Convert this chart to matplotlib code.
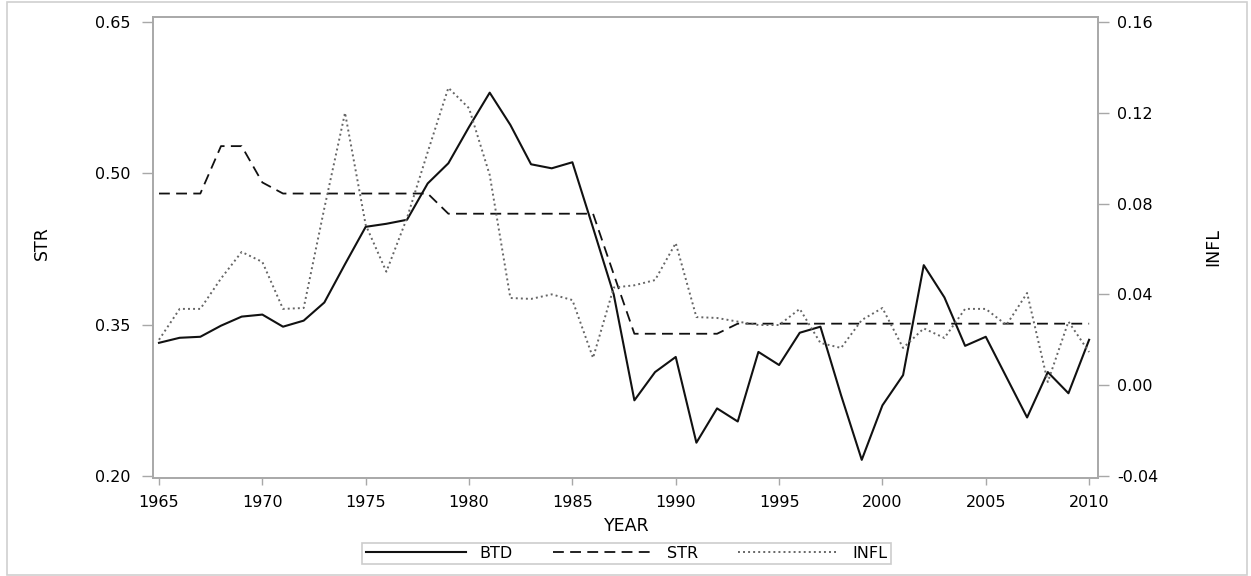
import matplotlib
matplotlib.use("Agg")
import matplotlib.pyplot as plt
from matplotlib.patches import Rectangle

# data
years = list(range(1965, 2011))

btd = [0.332, 0.337, 0.338, 0.349, 0.358, 0.360, 0.348, 0.354, 0.372, 0.410,
       0.447, 0.450, 0.454, 0.490, 0.510, 0.546, 0.580, 0.548, 0.509, 0.505,
       0.511, 0.446, 0.380, 0.275, 0.303, 0.318, 0.233, 0.267, 0.254, 0.323,
       0.310, 0.342, 0.348, 0.280, 0.216, 0.270, 0.300, 0.409, 0.377, 0.329,
       0.338, 0.298, 0.258, 0.303, 0.282, 0.335]

str_rate = [0.480, 0.480, 0.480, 0.527, 0.527, 0.491, 0.480, 0.480, 0.480, 0.480,
            0.480, 0.480, 0.480, 0.480, 0.460, 0.460, 0.460, 0.460, 0.460, 0.460,
            0.460, 0.460, 0.400, 0.341, 0.341, 0.341, 0.341, 0.341, 0.351, 0.351,
            0.351, 0.351, 0.351, 0.351, 0.351, 0.351, 0.351, 0.351, 0.351, 0.351,
            0.351, 0.351, 0.351, 0.351, 0.351, 0.351]

infl = [0.0200, 0.0336, 0.0336, 0.0470, 0.0587, 0.0543, 0.0336, 0.0340, 0.0780, 0.1200,
        0.0706, 0.0500, 0.0737, 0.1027, 0.1310, 0.1220, 0.0926, 0.0384, 0.0380, 0.0400,
        0.0375, 0.0120, 0.0430, 0.0440, 0.0463, 0.0626, 0.0300, 0.0296, 0.0280, 0.0265,
        0.0265, 0.0336, 0.0186, 0.0164, 0.0287, 0.0340, 0.0164, 0.0250, 0.0208, 0.0336,
        0.0336, 0.0265, 0.0406, 0.0014, 0.0280, 0.0146]

left_ticks = [0.20, 0.35, 0.50, 0.65]
right_ticks = [-0.04, 0.00, 0.04, 0.08, 0.12, 0.16]
year_ticks = list(range(1965, 2011, 5))

plt.rcParams['font.family'] = ['DejaVu Sans']
spine_col = '#a8a8a8'

fig = plt.figure(figsize=(12.51, 5.76), dpi=100)
ax = fig.add_axes([153 / 1251, 1 - 478 / 576, (1098 - 153) / 1251, (478 - 17) / 576])
ax2 = ax.twinx()

l1, = ax.plot(years, btd, color='#111111', lw=1.5, label='BTD')
l2, = ax.plot(years, str_rate, color='#111111', lw=1.3, linestyle=(0, (6, 3.5)), label='STR')
l3, = ax2.plot(years, infl, color='#666666', lw=1.4, linestyle=(0, (1, 1.6)), label='INFL')

ax.set_xlim(1964.71, 2010.43)
ax.set_ylim(0.198, 0.655)
ax2.set_ylim(-0.0409, 0.1622)

ax.set_xticks(year_ticks)
ax.set_yticks(left_ticks)
ax.set_yticklabels(['%.2f' % v for v in left_ticks])
ax2.set_yticks(right_ticks)
ax2.set_yticklabels(['%.2f' % v for v in right_ticks])

for a in (ax, ax2):
    for s in a.spines.values():
        s.set_color(spine_col)
        s.set_linewidth(1.2)

ax.tick_params(axis='x', length=5, width=1, color=spine_col, pad=7, labelsize=11.5)
ax.tick_params(axis='y', length=8, width=1, color=spine_col, pad=8, labelsize=11.5)
ax2.tick_params(axis='y', length=8, width=1, color=spine_col, pad=6, labelsize=11.5)

fig.text(627 / 1251, 1 - 526 / 576, 'YEAR', ha='center', va='center', fontsize=12.5)
fig.text(42 / 1251, 1 - 243 / 576, 'STR', ha='center', va='center', rotation=90, fontsize=12.5)
fig.text(1213 / 1251, 1 - 247 / 576, 'INFL', ha='center', va='center', rotation=90, fontsize=12.5)

leg = fig.legend(handles=[l1, l2, l3], loc='center', bbox_to_anchor=(626.5 / 1251, 1 - 553.5 / 576),
                 ncol=3, fontsize=11.5, frameon=True, fancybox=False, handlelength=6.3,
                 handletextpad=0.85, columnspacing=2.5, borderpad=0.2)
leg.get_frame().set_edgecolor('#c0c0c0')
leg.get_frame().set_linewidth(1.2)

# outer border around the whole graph
fig.patches.append(Rectangle((7 / 1251, 0.002), 1240 / 1251, 1 - 2 / 576 - 0.002,
                             transform=fig.transFigure, fill=False,
                             edgecolor='#d0d0d0', lw=1.2))

fig.savefig('out.png', dpi=100)
